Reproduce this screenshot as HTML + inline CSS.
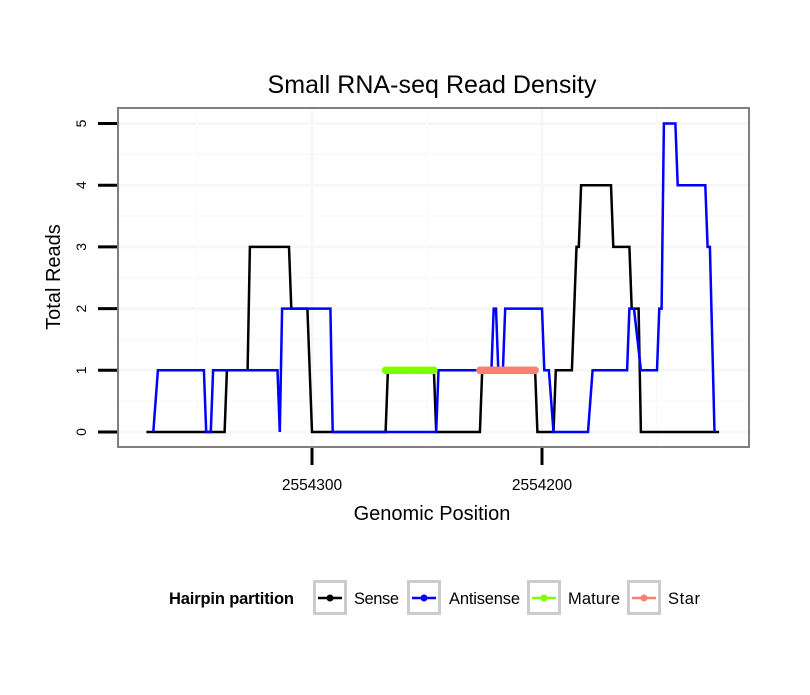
<!DOCTYPE html>
<html><head><meta charset="utf-8"><style>
body{margin:0;background:#fff}
svg text{font-family:"Liberation Sans",Arial,sans-serif}
</style></head><body>
<svg id="chart" width="810" height="690">
<rect width="810" height="690" fill="#fff"/>
<text x="432" y="93" font-size="25" text-anchor="middle" textLength="329">Small RNA-seq Read Density</text>
<g id="grid"></g>
<g id="series"></g>
<rect x="118" y="108" width="631" height="339" fill="none" stroke="#7f7f7f" stroke-width="2"/>
<g id="axes"></g>
<text x="432" y="520" font-size="20" text-anchor="middle">Genomic Position</text>
<text transform="translate(60,277) rotate(-90)" font-size="20" text-anchor="middle">Total Reads</text>
<g id="legend">
<text x="169" y="604" font-size="16.5" font-weight="bold" textLength="125">Hairpin partition</text>
</g>
</svg>
<script>
const senseX=[2554372,2554338,2554337,2554328,2554327,2554310,2554309,2554302,2554300,2554268,2554267,2554247,2554246,2554227,2554226,2554203,2554202,2554195,2554194,2554187,2554185,2554184,2554183,2554170,2554169,2554162,2554161,2554158,2554157,2554123];
const senseY=[0,0,1,1,3,3,2,2,0,0,1,1,0,0,1,1,0,0,1,1,3,3,4,4,3,3,2,2,0,0];
const antiX=[2554369,2554367,2554347,2554346,2554344,2554343,2554315,2554314,2554313,2554292,2554291,2554246,2554245,2554222,2554221,2554220,2554219,2554217,2554216,2554200,2554199,2554197,2554195,2554180,2554178,2554163,2554162,2554160,2554157,2554150,2554149,2554148,2554147,2554142,2554141,2554129,2554128,2554127,2554125];
const antiY=[0,1,1,0,0,1,1,0,2,2,0,0,1,1,2,2,1,1,2,2,1,1,0,0,1,1,2,2,1,1,2,2,5,5,4,4,3,3,0];
const matureRange=[2554268,2554247];
const matureVal=1;
const starRange=[2554227,2554203];
const starVal=1;
const xTicks=[2554300,2554200];
const yTicks=[0,1,2,3,4,5];
const legendLabels=["Sense","Antisense","Mature","Star"];
const legendColors=["#000000","#0000ff","#7fff00","#fa8072"];

const NS="http://www.w3.org/2000/svg";
const X=p=>312+(2554300-p)*2.3;
const Y=v=>432-v*61.7;
function mk(tag,attrs,parent){const e=document.createElementNS(NS,tag);for(const k in attrs)e.setAttribute(k,attrs[k]);parent.appendChild(e);return e;}
const grid=document.getElementById('grid'),ser=document.getElementById('series'),axes=document.getElementById('axes'),leg=document.getElementById('legend');
for(let v=0;v<=5;v+=0.5){const g=mk('line',{x1:118,x2:749,y1:Y(v),y2:Y(v),stroke:v%1?'#fbfbfb':'#f7f7f7','stroke-width':v%1?2:3},grid);

}
[2554350,2554300,2554250,2554200,2554150].forEach(p=>{const g=mk('line',{x1:X(p),x2:X(p),y1:108,y2:447,stroke:p%100?'#fbfbfb':'#f7f7f7','stroke-width':p%100?2:3},grid);

});
function line(xs,ys,col,name){const d=xs.map((x,i)=>(i?'L':'M')+X(x).toFixed(1)+','+Y(ys[i]).toFixed(1)).join('');
const p=mk('path',{d:d,fill:'none',stroke:col,'stroke-width':2.5,'stroke-linejoin':'miter'},ser);

}
line(senseX,senseY,'#000','sense-line');
line(antiX,antiY,'#0000ff','antisense-line');
function dots(r,v,col,name){const g=mk('g',{},ser);


mk('line',{x1:X(r[0]),x2:X(r[1]),y1:Y(v),y2:Y(v),stroke:col,'stroke-width':3},g);
for(let p=r[0];p>=r[1];p--){mk('circle',{cx:X(p),cy:Y(v),r:3.8,fill:col},g);}}
dots(matureRange,matureVal,'#7fff00','mature-series');
dots(starRange,starVal,'#fa8072','star-series');
yTicks.forEach(v=>{const t=mk('line',{x1:98,x2:117,y1:Y(v),y2:Y(v),stroke:'#000','stroke-width':3},axes);


const l=mk('text',{transform:`translate(86,${Y(v)}) rotate(-90)`,'font-size':14,'text-anchor':'middle'},axes);l.textContent=v;

});
xTicks.forEach(p=>{const t=mk('line',{x1:X(p),x2:X(p),y1:448,y2:465,stroke:'#000','stroke-width':3},axes);


const l=mk('text',{x:X(p),y:490,'font-size':15.5,'text-anchor':'middle'},axes);l.textContent=p;

});
const bx=[313,407,527,627];
const tx=[354,449,568,668];
const tw=[45,71,52,32];
legendLabels.forEach((lab,i)=>{const g=mk('g',{},leg);


mk('rect',{x:bx[i]+1.5,y:581.5,width:31,height:32,fill:'#fff',stroke:'#cccccc','stroke-width':3},g);
mk('line',{x1:bx[i]+5,x2:bx[i]+29,y1:598,y2:598,stroke:legendColors[i],'stroke-width':2.5},g);
mk('circle',{cx:bx[i]+17,cy:598,r:3.5,fill:legendColors[i]},g);
const t=mk('text',{x:tx[i],y:604,'font-size':16.5,textLength:tw[i]},g);t.textContent=lab;});
</script>
</body></html>
